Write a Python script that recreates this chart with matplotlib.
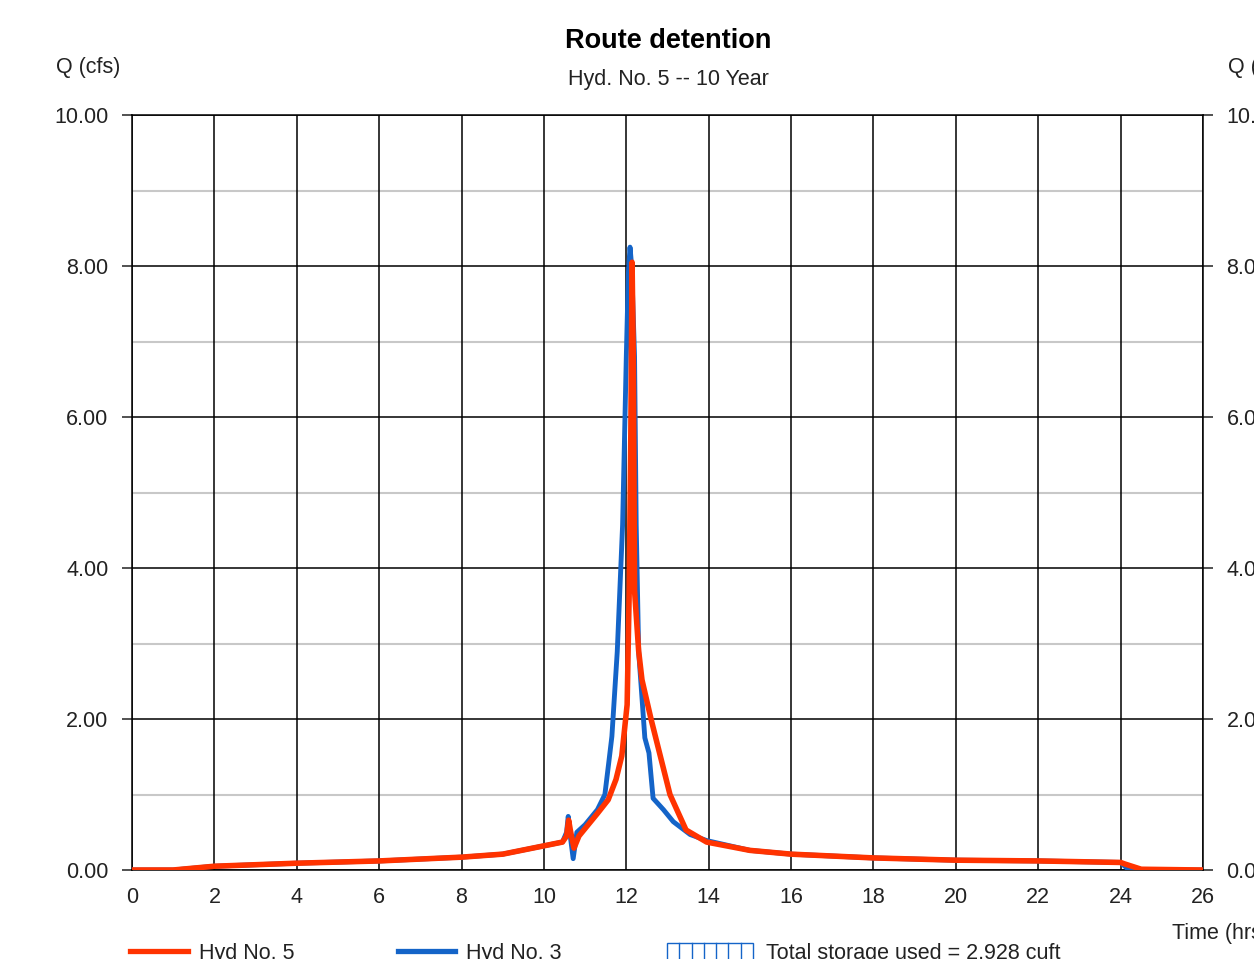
import matplotlib
matplotlib.use('Agg')
import matplotlib.pyplot as plt
from matplotlib.lines import Line2D
from matplotlib.patches import Rectangle
import matplotlib.ticker as mticker

plt.rcParams['font.family'] = ['Liberation Sans', 'DejaVu Sans']

# outflow hydrograph (Hyd No. 5)
t_out = [0, 1.0, 2, 4, 6, 8, 9, 10, 10.45, 10.55, 10.6, 10.65, 10.73, 10.85, 11.0, 11.3,
         11.56, 11.75, 11.89, 12.02, 12.07, 12.11, 12.14, 12.17, 12.2, 12.3, 12.38,
         12.6, 13.06, 13.45, 13.95, 15, 16, 18, 20, 22, 23, 24, 24.1, 24.5, 26]
q_out = [0, 0.0, 0.05, 0.09, 0.12, 0.17, 0.21, 0.32, 0.37, 0.45, 0.66, 0.5, 0.29, 0.45, 0.55, 0.75,
         0.93, 1.2, 1.51, 2.19, 3.68, 5.8, 8.05, 6.8, 3.7, 2.9, 2.52,
         2.0, 1.0, 0.53, 0.37, 0.26, 0.21, 0.16, 0.13, 0.12, 0.11, 0.1, 0.08, 0.01, 0.0]

# inflow hydrograph (Hyd No. 3)
t_in = [0, 1.0, 2, 4, 6, 8, 9, 10, 10.45, 10.55, 10.59, 10.64, 10.71, 10.8, 11.0, 11.3,
        11.48, 11.58, 11.65, 11.78, 11.91, 12.0, 12.05, 12.09, 12.13, 12.2, 12.24, 12.3,
        12.37, 12.45, 12.55, 12.65, 12.9, 13.14, 13.55, 13.95, 15, 16, 18, 20, 22, 23, 24, 24.2, 26]
q_in = [0, 0, 0.05, 0.09, 0.12, 0.17, 0.21, 0.32, 0.37, 0.5, 0.71, 0.45, 0.15, 0.5, 0.6, 0.8,
        1.0, 1.45, 1.77, 2.89, 4.57, 6.8, 7.9, 8.25, 8.0, 6.8, 4.57, 2.89,
        2.36, 1.75, 1.55, 0.95, 0.8, 0.64, 0.47, 0.39, 0.26, 0.21, 0.16, 0.13, 0.12, 0.11, 0.1, 0.0, 0.0]

title = 'Route detention'
subtitle = 'Hyd. No. 5 -- 10 Year'
storage_text = 'Total storage used = 2,928 cuft'

RED = '#FF3300'
BLUE = '#1464C8'

fig = plt.figure(figsize=(12.54, 9.59), dpi=100)
W, H = 1254, 959
ax = fig.add_axes([132 / W, 1 - 870 / H, (1203 - 132) / W, (870 - 115) / H])

ax.set_xlim(0, 26)
ax.set_ylim(0, 10)
ax.xaxis.set_major_locator(mticker.MultipleLocator(2))
ax.yaxis.set_major_locator(mticker.MultipleLocator(2))
ax.yaxis.set_major_formatter(mticker.FormatStrFormatter('%.2f'))

# minor grey lines at odd flows
for yv in [1, 3, 5, 7, 9]:
    ax.axhline(yv, color='#c8c8c8', lw=1.5, zorder=1)
ax.grid(True, which='major', color='black', lw=1.1, zorder=2)
for s in ax.spines.values():
    s.set_linewidth(1.1)

ax.tick_params(axis='y', direction='out', length=7, width=1.1, pad=10, labelsize=15.5,
               right=True, labelright=True, colors='#222222')
ax.tick_params(axis='x', length=0, pad=12, labelsize=15.5, labelcolor='#222222')

ax.plot(t_in, q_in, color=BLUE, lw=3.5, zorder=4, solid_joinstyle='round')
ax.plot(t_out, q_out, color=RED, lw=4.0, zorder=5, solid_joinstyle='round')

fig.text(668 / W, 1 - 41 / H, title, ha='center', va='center', fontsize=19.5, fontweight='bold')
fig.text(668 / W, 1 - 79 / H, subtitle, ha='center', va='center', fontsize=15.5, color='#222222')
fig.text(88 / W, 1 - 67 / H, 'Q (cfs)', ha='center', va='center', fontsize=15.5, color='#222222')
fig.text(1228 / W, 1 - 67 / H, 'Q (cfs)', ha='left', va='center', fontsize=15.5, color='#222222')
fig.text(1172 / W, 1 - 933 / H, 'Time (hrs)', ha='left', va='center', fontsize=15.5, color='#222222')

# legend row along the bottom
ly = 1 - 951 / H
fig.add_artist(Line2D([130 / W, 188 / W], [ly, ly], color=RED, lw=3.8))
fig.text(199 / W, ly - 2 / H, 'Hyd No. 5', ha='left', va='center', fontsize=15.5, color='#222222')
fig.add_artist(Line2D([398 / W, 455 / W], [ly, ly], color=BLUE, lw=3.8))
fig.text(466 / W, ly - 2 / H, 'Hyd No. 3', ha='left', va='center', fontsize=15.5, color='#222222')
bx0, bx1 = 667, 753
fig.add_artist(Rectangle((bx0 / W, 1 - 965 / H), (bx1 - bx0) / W, 22 / H,
                         fill=False, edgecolor=BLUE, lw=1.0))
for k in range(1, 7):
    xx = (bx0 + k * (bx1 - bx0) / 7) / W
    fig.add_artist(Line2D([xx, xx], [1 - 965 / H, 1 - 943 / H], color=BLUE, lw=1.0))
fig.text(766 / W, ly - 2 / H, storage_text, ha='left', va='center', fontsize=15.5, color='#222222')

fig.savefig('out.png', dpi=100)
